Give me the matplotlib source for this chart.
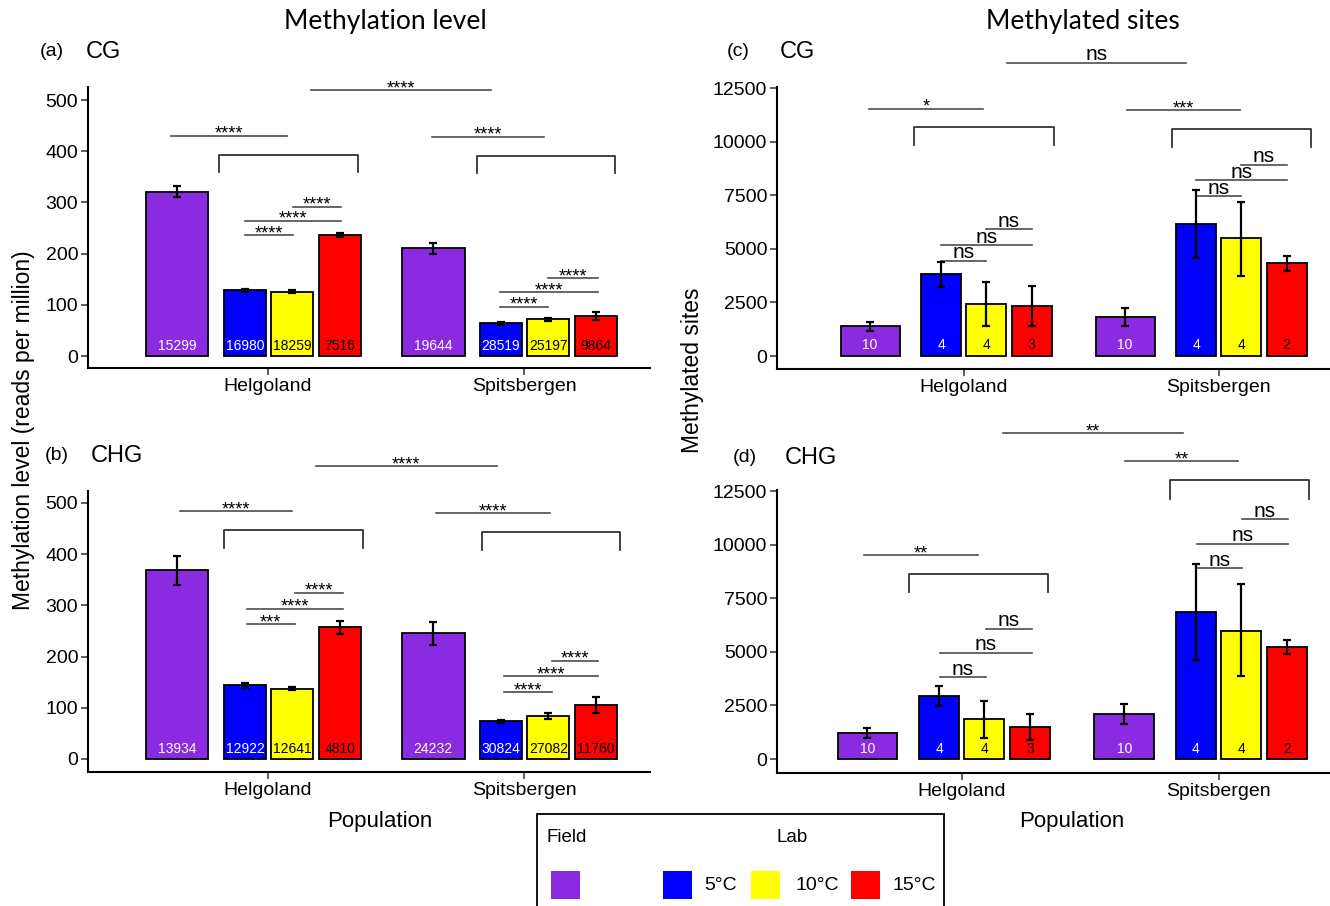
import matplotlib
matplotlib.use('Agg')
import matplotlib.pyplot as plt
from matplotlib.patches import Rectangle

plt.rcParams['font.family'] = ['Liberation Sans', 'DejaVu Sans']

W, H = 1330, 906

populations = ['Helgoland', 'Spitsbergen']
treatments = ['Field', '5°C', '10°C', '15°C']
colours = ['#8A2BE2', '#0000FF', '#FFFF00', '#FF0000']
num_colours = ['white', 'white', 'black', 'black']

# (a) CG methylation level (reads per million)
cg_level = [[321, 128, 126, 237], [210, 64, 72, 79]]
cg_level_lo = [[310, 125, 124, 233], [199, 61, 69, 71]]
cg_level_hi = [[333, 131, 128, 240], [220, 66, 74, 86]]
cg_level_n = [[15299, 16980, 18259, 7516], [19644, 28519, 25197, 9864]]
cg_level_sig = [
    (1.168, 1.871, 519.5, '****'),
    (0.621, 1.074, 430, '****'),
    (0.909, 1.098, 236, '****'),
    (0.909, 1.285, 264, '****'),
    (1.098, 1.285, 292, '****'),
    (1.640, 2.078, 428, '****'),
    (1.906, 2.095, 96, '****'),
    (1.906, 2.290, 125, '****'),
    (2.095, 2.290, 152, '****'),
]
cg_level_brackets = [(0.809, 1.352, 393, 359), (1.816, 2.355, 390, 357)]

# (b) CHG methylation level
chg_level = [[368.5, 144, 137.4, 257], [245.4, 73.6, 84, 106]]
chg_level_lo = [[340, 138, 134, 245], [223, 70, 77.5, 90.5]]
chg_level_hi = [[397, 149, 140.6, 269], [267, 76, 89, 122]]
chg_level_n = [[13934, 12922, 12641, 4810], [24232, 30824, 27082, 11760]]
chg_level_sig = [
    (1.188, 1.893, 571.6, '****'),
    (0.656, 1.094, 483.7, '****'),
    (0.918, 1.104, 263, '***'),
    (0.918, 1.293, 293.6, '****'),
    (1.104, 1.293, 325, '****'),
    (1.657, 2.100, 480.5, '****'),
    (1.923, 2.110, 130, '****'),
    (1.923, 2.290, 161.5, '****'),
    (2.110, 2.290, 192, '****'),
]
chg_level_brackets = [(0.827, 1.370, 446.6, 411.5), (1.834, 2.376, 442.7, 407.6)]

# (c) CG methylated sites
cg_sites = [[1399, 3809, 2425, 2316], [1819, 6157, 5488, 4338]]
cg_sites_lo = [[1166, 3234, 1399, 1415], [1415, 4555, 3747, 3964]]
cg_sites_hi = [[1601, 4400, 3451, 3265], [2223, 7742, 7167, 4664]]
cg_sites_n = [[10, 4, 4, 3], [10, 4, 4, 2]]
cg_sites_sig = [
    (1.169, 1.873, 13680, 'ns'),
    (0.630, 1.074, 11536, '*'),
    (0.910, 1.086, 4446, 'ns'),
    (0.910, 1.266, 5177, 'ns'),
    (1.086, 1.266, 5908, 'ns'),
    (1.641, 2.083, 11474, '***'),
    (1.911, 2.088, 7463, 'ns'),
    (1.911, 2.267, 8193, 'ns'),
    (2.088, 2.267, 8924, 'ns'),
]
cg_sites_brackets = [(0.807, 1.352, 10665, 9841), (1.818, 2.361, 10588, 9732)]

# (d) CHG methylated sites
chg_sites = [[1228, 2938, 1850, 1477], [2114, 6841, 5986, 5224]]
chg_sites_lo = [[979, 2488, 995, 870], [1617, 4602, 3856, 4882]]
chg_sites_hi = [[1446, 3420, 2705, 2083], [2581, 9079, 8147, 5535]]
chg_sites_n = [[10, 4, 4, 3], [10, 4, 4, 2]]
chg_sites_sig = [
    (1.160, 1.862, 15191, '**'),
    (1.635, 2.077, 13883, '**'),
    (1.915, 2.092, 8908, 'ns'),
    (1.915, 2.270, 10043, 'ns'),
    (2.092, 2.270, 11178, 'ns'),
    (0.620, 1.062, 9499, '**'),
    (0.916, 1.093, 3825, 'ns'),
    (0.916, 1.273, 4959, 'ns'),
    (1.093, 1.273, 6079, 'ns'),
]
chg_sites_brackets = [(0.796, 1.338, 8613, 7789), (1.812, 2.352, 12997, 12142)]

fig = plt.figure(figsize=(W / 100, H / 100), dpi=100)


def add_ax(l, t, r, b):
    return fig.add_axes([l / W, 1 - b / H, (r - l) / W, (b - t) / H])


def panel(ax, vals, lo, hi, ns, sig, brackets, offsets, widths, xlim, ylim,
          yticks, num_y):
    for g in range(2):
        for k in range(4):
            x = g + 1 + offsets[k]
            w = widths[0] if k == 0 else widths[1]
            v = vals[g][k]
            ax.bar(x, v, width=w, color=colours[k], edgecolor='black',
                   linewidth=1.3, zorder=2)
            ax.errorbar(x, v, yerr=[[v - lo[g][k]], [hi[g][k] - v]],
                        color='black', capsize=3, elinewidth=1.6,
                        capthick=1.6, zorder=3)
            ax.text(x, num_y, str(ns[g][k]), ha='center', va='center',
                    color=num_colours[k], fontsize=10, zorder=4)
    for x1, x2, y, lab in sig:
        ax.plot([x1, x2], [y, y], color='#4d4d4d', lw=1.2, clip_on=False)
        if lab == 'ns':
            off, fs = 1.6, 15
        else:
            off, fs = -2.2, 13
        ax.annotate(lab, xy=((x1 + x2) / 2, y), xytext=(0, off),
                    textcoords='offset points', ha='center', va='baseline',
                    fontsize=fs, annotation_clip=False)
    for x1, x2, top, bot in brackets:
        ax.plot([x1, x1, x2, x2], [bot, top, top, bot], color='#333333',
                lw=1.3, clip_on=False)
    ax.set_xlim(*xlim)
    ax.set_ylim(*ylim)
    ax.set_xticks([1, 2])
    ax.set_xticklabels(populations, fontsize=14)
    ax.set_yticks(yticks)
    ax.tick_params(axis='y', labelsize=14, length=5, width=1.1,
                   color='#333333', pad=2)
    ax.tick_params(axis='x', length=5, width=1.1, color='#333333', pad=2)
    for s in ['top', 'right']:
        ax.spines[s].set_visible(False)
    for s in ['left', 'bottom']:
        ax.spines[s].set_linewidth(1.5)


left_off = [-0.355, -0.09, 0.095, 0.28]
left_w = [0.245, 0.165]
right_off = [-0.367, -0.088, 0.088, 0.266]
right_w = [0.232, 0.157]

ax_a = add_ax(88, 87, 650, 368)
panel(ax_a, cg_level, cg_level_lo, cg_level_hi, cg_level_n, cg_level_sig,
      cg_level_brackets, left_off, left_w, (0.297, 2.492), (-23.4, 525.4),
      [0, 100, 200, 300, 400, 500], 20)

ax_b = add_ax(88, 491, 650, 772)
panel(ax_b, chg_level, chg_level_lo, chg_level_hi, chg_level_n, chg_level_sig,
      chg_level_brackets, left_off, left_w, (0.297, 2.492), (-25.4, 523.4),
      [0, 100, 200, 300, 400, 500], 20)

ax_c = add_ax(777, 87, 1330, 369)
panel(ax_c, cg_sites, cg_sites_lo, cg_sites_hi, cg_sites_n, cg_sites_sig,
      cg_sites_brackets, right_off, right_w, (0.268, 2.436), (-606, 12547),
      [0, 2500, 5000, 7500, 10000, 12500], 513)

ax_d = add_ax(777, 490, 1330, 773)
panel(ax_d, chg_sites, chg_sites_lo, chg_sites_hi, chg_sites_n, chg_sites_sig,
      chg_sites_brackets, right_off, right_w, (0.281, 2.434), (-653, 12547),
      [0, 2500, 5000, 7500, 10000, 12500], 466)


def ftext(x, y, s, **kw):
    fig.text(x / W, 1 - y / H, s, **kw)


# titles and panel labels
ftext(385, 22, 'Methylation level', ha='center', va='center', fontsize=19,
      family=['Lato', 'DejaVu Sans'])
ftext(1083, 22, 'Methylated sites', ha='center', va='center', fontsize=19,
      family=['Lato', 'DejaVu Sans'])
for x, y, s in [(40, 52, '(a)'), (45, 456, '(b)'), (727, 52, '(c)'), (733, 458, '(d)')]:
    ftext(x, y, s, ha='left', va='center', fontsize=14)
for x, y, s in [(86, 52, 'CG'), (91, 456, 'CHG'), (780, 52, 'CG'), (785, 458, 'CHG')]:
    ftext(x, y, s, ha='left', va='center', fontsize=17)

ftext(380, 822, 'Population', ha='center', va='center', fontsize=16)
ftext(1072, 822, 'Population', ha='center', va='center', fontsize=16)
ftext(24, 430, 'Methylation level (reads per million)', ha='center',
      va='center', rotation=90, fontsize=16.5)
ftext(692, 370, 'Methylated sites', ha='center', va='center', rotation=90,
      fontsize=16.5)

# legend
fig.patches.append(Rectangle((537 / W, 1 - 912 / H), (944 - 537) / W, (912 - 814) / H,
                             transform=fig.transFigure, fill=False,
                             edgecolor='black', lw=1.3, clip_on=False))
ftext(546, 837, 'Field', ha='left', va='center', fontsize=13.5)
ftext(777, 837, 'Lab', ha='left', va='center', fontsize=13.5)
key_x = [551, 663, 751, 851]
key_lab_x = [None, 704, 795, 893]
for k in range(4):
    fig.patches.append(Rectangle((key_x[k] / W, 1 - 899 / H), 29 / W, 28 / H,
                                 transform=fig.transFigure,
                                 facecolor=colours[k], edgecolor='none'))
    if k > 0:
        ftext(key_lab_x[k], 886, treatments[k], ha='left', va='center',
              fontsize=14)

fig.savefig('out.png', dpi=100)
